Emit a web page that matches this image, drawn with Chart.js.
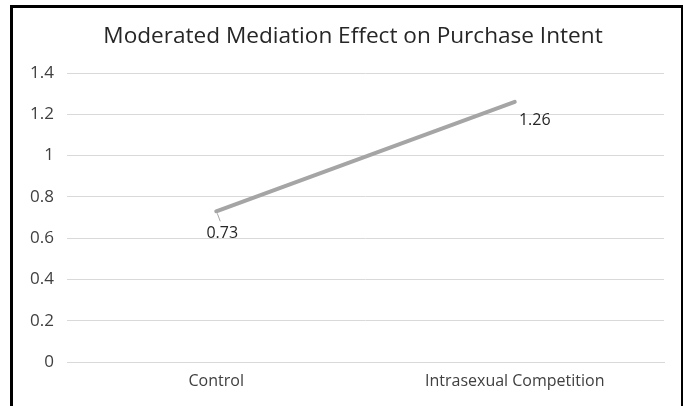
<!DOCTYPE html>
<html>
<head>
<meta charset="utf-8">
<script src="https://cdn.jsdelivr.net/npm/chart.js@4/dist/chart.umd.min.js"></script>
<style>
  html, body { margin: 0; padding: 0; background: #fff; }
  #wrap { position: relative; width: 683px; height: 406px; overflow: hidden; }
  #frame { position: absolute; left: 10px; top: 5px; width: 668px; height: 420px;
           border: 3px solid #000; pointer-events: none; }
  canvas { position: absolute; left: 0; top: 0; }
</style>
</head>
<body>
<div id="wrap">
  <canvas id="c" width="683" height="406"></canvas>
  <div id="frame"></div>
</div>
<script>
const categories = ['Control', 'Intrasexual Competition'];
const effectValues = [0.73, 1.26];
const yTicks = [0, 0.2, 0.4, 0.6, 0.8, 1, 1.2, 1.4];
const chartTitle = 'Moderated Mediation Effect on Purchase Intent';

const FONT = "'Open Sans', sans-serif";

// Heading drawn in the band above the plot, centred within the framed panel
const heading = {
  id: 'heading',
  afterDraw(chart, args, opts) {
    const ctx = chart.ctx;
    ctx.save();
    ctx.font = opts.size + 'px ' + FONT;
    ctx.fillStyle = '#262626';
    ctx.textAlign = 'center';
    ctx.textBaseline = 'middle';
    ctx.fillText(chartTitle, opts.x, opts.y);
    ctx.restore();
  }
};

// Writes each point's value next to it, with a short leader where the label sits away from the line
const valueLabels = {
  id: 'valueLabels',
  afterDatasetsDraw(chart, args, opts) {
    const ctx = chart.ctx;
    const meta = chart.getDatasetMeta(0);
    ctx.save();
    ctx.font = '16px ' + FONT;
    ctx.fillStyle = '#262626';
    ctx.textAlign = 'center';
    ctx.textBaseline = 'middle';
    meta.data.forEach((pt, i) => {
      const off = opts.offsets[i];
      if (off.leader) {
        ctx.strokeStyle = '#a6a6a6';
        ctx.lineWidth = 1;
        ctx.beginPath();
        ctx.moveTo(pt.x + 1, pt.y + 2);
        ctx.lineTo(pt.x + 4, pt.y + 10);
        ctx.stroke();
      }
      ctx.fillText(String(effectValues[i]), pt.x + off.dx, pt.y + off.dy);
    });
    ctx.restore();
  }
};

new Chart(document.getElementById('c'), {
  type: 'line',
  data: {
    labels: categories,
    datasets: [{
      data: effectValues,
      borderColor: '#a5a5a5',
      borderWidth: 4,
      borderCapStyle: 'round',
      pointRadius: 0,
      tension: 0,
      fill: false
    }]
  },
  options: {
    responsive: false,
    animation: false,
    layout: { padding: { left: 0, right: 19, top: 73, bottom: 0 } },
    plugins: {
      legend: { display: false },
      tooltip: { enabled: false },
      title: { display: false },
      heading: { x: 353, y: 37, size: 22.6 },
      valueLabels: {
        offsets: [
          { dx: 6, dy: 22, leader: true },
          { dx: 20, dy: 19, leader: false }
        ]
      }
    },
    scales: {
      x: {
        offset: true,
        grid: { display: false, drawTicks: false },
        border: { display: true, color: '#d9d9d9', width: 1 },
        ticks: { color: '#404040', font: { family: FONT, size: 16 }, padding: 10, maxRotation: 0 },
        afterFit(s) { s.height = 44; }
      },
      y: {
        min: 0,
        max: 1.4,
        afterBuildTicks(s) { s.ticks = yTicks.map(v => ({ value: v })); },
        grid: { color: '#d9d9d9', lineWidth: 1, drawTicks: false },
        border: { display: false },
        ticks: {
          color: '#404040',
          font: { family: FONT, size: 17 },
          padding: 13,
          callback: v => String(Number(v.toFixed(1)))
        },
        afterFit(s) { s.width = 67; }
      }
    }
  },
  plugins: [valueLabels, heading]
});
</script>
</body>
</html>
